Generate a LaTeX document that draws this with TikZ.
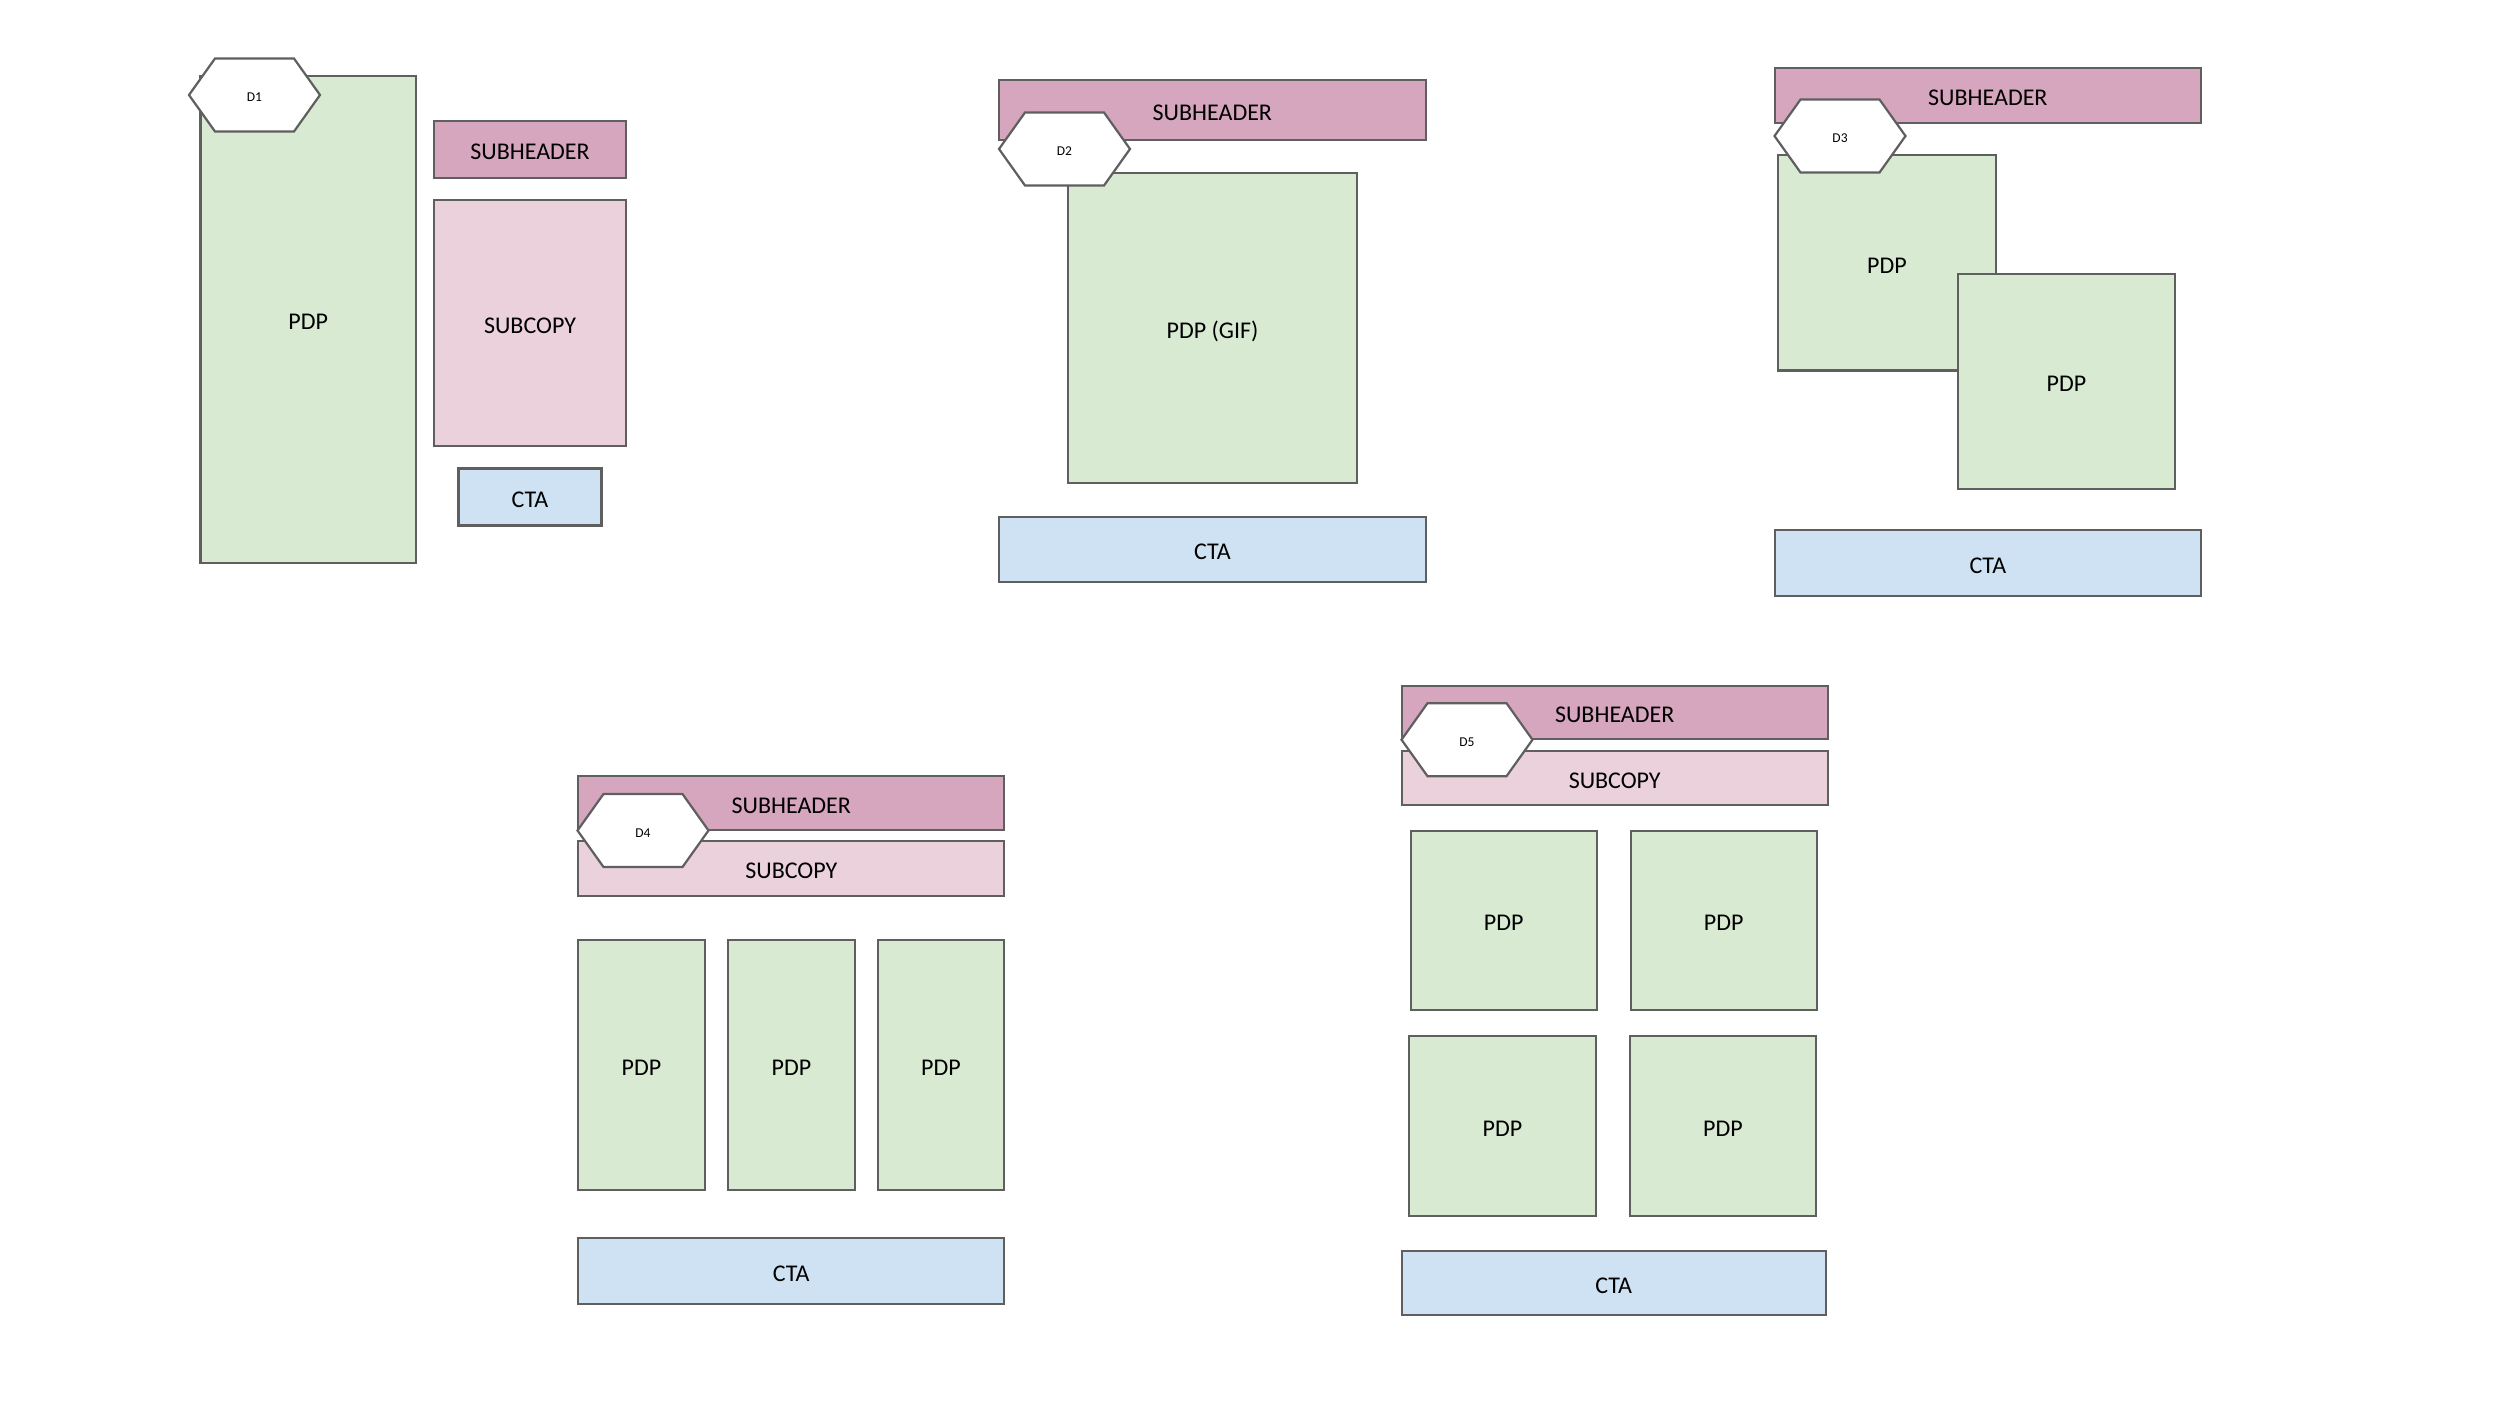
\documentclass[tikz,border=0pt]{standalone}
\usepackage{fontspec}
\setmainfont{Carlito}
\definecolor{pdpfill}{HTML}{D9EAD3}
\definecolor{shfill}{HTML}{D5A6BD}
\definecolor{scfill}{HTML}{EAD1DC}
\definecolor{ctafill}{HTML}{CFE2F3}
\definecolor{edge}{HTML}{5F5F5F}
\tikzset{
  box/.style={draw=edge, line width=2.2pt, rectangle, inner sep=0pt, outer sep=0pt,
    font=\fontsize{24}{28}\selectfont, text=black, text height=20.5pt, text depth=0pt},
  pdp/.style={box, fill=pdpfill},
  subhdr/.style={box, fill=shfill},
  subcpy/.style={box, fill=scfill},
  cta/.style={box, fill=ctafill},
  hexbox/.style={rectangle, draw=none, inner sep=0pt, outer sep=0pt, minimum width=131pt, minimum height=73pt},
  hexline/.style={draw=edge, fill=white, line width=2.2pt, line join=miter},
  hextext/.style={inner sep=0pt, font=\fontsize{13.5}{16}\selectfont, text=black, text height=14pt, text depth=0pt},
}
\newcommand\hexmark[4]{%
  \node[hexbox] (#1) at (#2,#3) {};
  \filldraw[hexline] (#1.west) -- ([xshift=26pt]#1.north west) -- ([xshift=-26pt]#1.north east)
    -- (#1.east) -- ([xshift=-26pt]#1.south east) -- ([xshift=26pt]#1.south west) -- cycle;
  \node[hextext] (#1t) at (#1) {#4};
}
\begin{document}
\begin{tikzpicture}[x=1pt,y=-1pt]
\useasboundingbox[fill=white] (0,0) rectangle (2500,1407);

% ---- D1
\node[pdp, minimum width=215.5pt, minimum height=487pt] (pdpA) at (308.25,319.5) {PDP};
\node[subhdr, minimum width=192pt, minimum height=57.3pt] (shA) at (530,149.35) {SUBHEADER};
\node[subcpy, minimum width=192pt, minimum height=246pt] (scA) at (530,323) {SUBCOPY};
\node[cta, minimum width=143pt, minimum height=57pt] (ctaA) at (530,497) {CTA};
\hexmark{dA}{254.5}{95}{D1}

% ---- D2
\node[subhdr, minimum width=426.7pt, minimum height=60pt] (shB) at (1212.35,110) {SUBHEADER};
\node[pdp, minimum width=288.4pt, minimum height=310.6pt] (pdpB) at (1212.5,328) {PDP (GIF)};
\node[cta, minimum width=426.4pt, minimum height=65pt] (ctaB) at (1212.5,549.2) {CTA};
\hexmark{dB}{1064.5}{149}{D2}

% ---- D3
\node[subhdr, minimum width=425.7pt, minimum height=55pt] (shC) at (1987.85,95.5) {SUBHEADER};
\node[pdp, minimum width=217.7pt, minimum height=215pt] (pdpC1) at (1886.85,262.9) {PDP};
\node[pdp, minimum width=217.3pt, minimum height=214.6pt] (pdpC2) at (2066.35,381.3) {PDP};
\node[cta, minimum width=425.7pt, minimum height=65.3pt] (ctaC) at (1987.85,563) {CTA};
\hexmark{dC}{1840}{136}{D3}

% ---- D4
\node[subhdr, minimum width=426pt, minimum height=53.6pt] (shD) at (791.3,802.8) {SUBHEADER};
\node[subcpy, minimum width=426pt, minimum height=54.3pt] (scD) at (791.3,868.5) {SUBCOPY};
\node[pdp, minimum width=127pt, minimum height=249.6pt] (pdpD1) at (641.5,1064.8) {PDP};
\node[pdp, minimum width=127pt, minimum height=249.6pt] (pdpD2) at (791.5,1064.8) {PDP};
\node[pdp, minimum width=126pt, minimum height=249.6pt] (pdpD3) at (941,1064.8) {PDP};
\node[cta, minimum width=426pt, minimum height=65.6pt] (ctaD) at (791.3,1270.8) {CTA};
\hexmark{dD}{643}{830.5}{D4}

% ---- D5
\node[subhdr, minimum width=426pt, minimum height=53pt] (shE) at (1614.7,712.1) {SUBHEADER};
\node[subcpy, minimum width=426pt, minimum height=53.5pt] (scE) at (1614.7,778) {SUBCOPY};
\node[pdp, minimum width=186pt, minimum height=179.2pt] (pdpE1) at (1503.7,920.4) {PDP};
\node[pdp, minimum width=186pt, minimum height=179.2pt] (pdpE2) at (1723.7,920.4) {PDP};
\node[pdp, minimum width=186.4pt, minimum height=180.1pt] (pdpE3) at (1502.5,1126.25) {PDP};
\node[pdp, minimum width=186pt, minimum height=180.1pt] (pdpE4) at (1723,1126.25) {PDP};
\node[cta, minimum width=424pt, minimum height=64.4pt] (ctaE) at (1613.7,1283) {CTA};
\hexmark{dE}{1467}{739.7}{D5}
\end{tikzpicture}
\end{document}
